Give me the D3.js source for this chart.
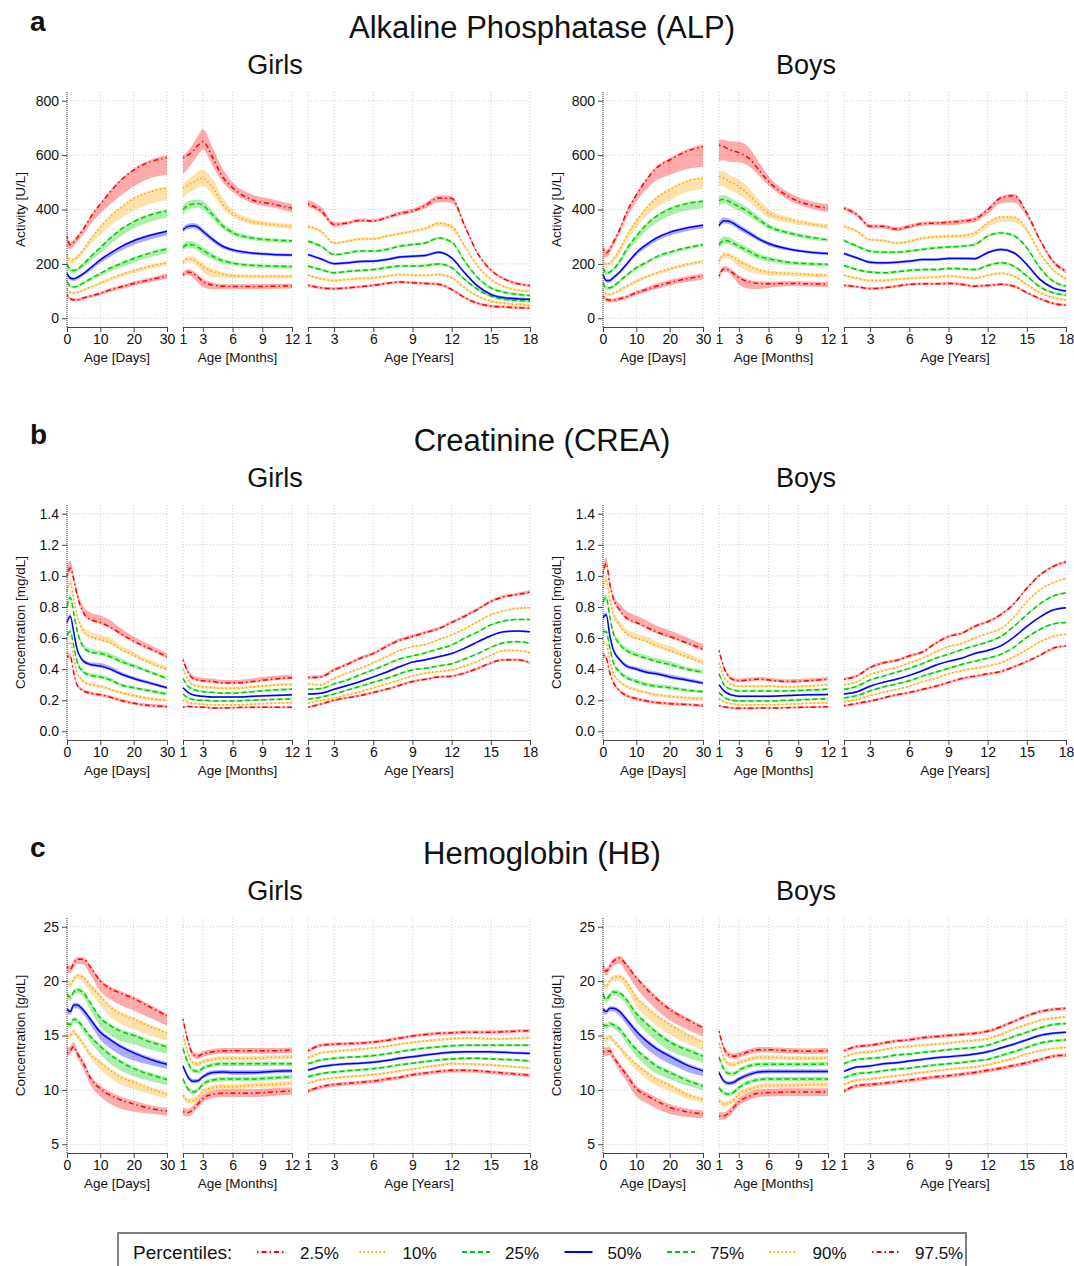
<!DOCTYPE html>
<html>
<head>
<meta charset="utf-8">
<script src="https://cdn.jsdelivr.net/npm/d3@7"></script>
<style>
  body { margin: 0; background: #fff; }
  text { font-family: "Liberation Sans", Arial, sans-serif; fill: #111; }
</style>
</head>
<body>
<script>
// percentile curves by age, 3 analytes x 2 sexes x 3 age periods

const percentiles = ["2.5%", "10%", "25%", "50%", "75%", "90%", "97.5%"];

// age grids the curves were read at
const daysX = [0, 1, 2, 3, 5, 7, 10, 13, 16, 20, 25, 30];
const monthsX = [1, 1.5, 2, 2.5, 3, 4, 5, 6, 8, 10, 12];
const yearsX = [1, 2, 3, 4, 5, 6, 7, 8, 9, 10, 11, 12, 13, 14, 15, 16, 17, 18];

const dayTicks = [0, 10, 20, 30];
const monthTicks = [1, 3, 6, 9, 12];
const yearTicks = [1, 3, 6, 9, 12, 15, 18];

const alpTicks = [0, 200, 400, 600, 800];
const creaTicks = [0, 0.2, 0.4, 0.6, 0.8, 1.0, 1.2, 1.4];
const hbTicks = [5, 10, 15, 20, 25];

// ---------- ALP girls ----------
const alpGirlsDays = [
  [85, 72, 68, 68, 75, 82, 92, 105, 115, 128, 142, 155],
  [110, 95, 92, 95, 105, 115, 130, 145, 160, 175, 192, 205],
  [135, 118, 115, 118, 130, 145, 165, 185, 200, 220, 240, 255],
  [165, 148, 145, 150, 165, 185, 215, 240, 262, 285, 305, 320],
  [200, 180, 175, 180, 200, 225, 260, 295, 325, 355, 380, 395],
  [235, 215, 215, 225, 255, 290, 335, 375, 405, 440, 465, 480],
  [300, 270, 280, 295, 330, 370, 420, 465, 505, 545, 575, 590]
];
const alpGirlsDaysLo = [
  [8, 6, 6, 6, 6, 6, 6, 7, 8, 8, 9, 10],
  [8, 6, 6, 6, 6, 6, 7, 8, 9, 10, 10, 10],
  [10, 6, 6, 6, 6, 8, 10, 12, 14, 15, 16, 16],
  [12, 8, 8, 8, 8, 10, 12, 14, 15, 15, 15, 15],
  [15, 10, 10, 10, 12, 15, 20, 22, 25, 25, 25, 25],
  [20, 12, 12, 12, 15, 20, 28, 35, 40, 45, 45, 45],
  [40, 15, 15, 15, 20, 25, 35, 45, 55, 60, 60, 62]
];
const alpGirlsDaysHi = [
  [8, 5, 5, 5, 5, 5, 5, 6, 6, 7, 8, 10],
  [6, 4, 4, 4, 4, 4, 4, 4, 4, 4, 5, 5],
  [8, 4, 4, 4, 4, 4, 4, 4, 5, 5, 6, 6],
  [10, 4, 4, 4, 4, 4, 4, 4, 4, 5, 5, 5],
  [12, 5, 5, 5, 5, 5, 5, 5, 5, 5, 5, 5],
  [15, 5, 5, 5, 5, 5, 5, 5, 5, 5, 5, 5],
  [15, 10, 8, 8, 6, 6, 6, 6, 6, 6, 8, 10]
];
const alpGirlsMonths = [
  [160, 170, 165, 152, 135, 122, 118, 117, 117, 118, 120],
  [205, 218, 215, 205, 190, 172, 162, 157, 155, 155, 155],
  [260, 272, 270, 262, 250, 228, 212, 203, 195, 192, 190],
  [325, 338, 340, 335, 320, 290, 265, 252, 240, 235, 233],
  [400, 415, 420, 422, 415, 380, 340, 315, 295, 288, 285],
  [478, 490, 500, 510, 515, 480, 420, 385, 355, 345, 338],
  [590, 600, 615, 635, 650, 590, 520, 480, 435, 420, 405]
];
const alpGirlsMonthsLo = [
  [10, 10, 15, 20, 20, 15, 10, 10, 10, 10, 10],
  [10, 10, 12, 15, 20, 20, 12, 10, 8, 8, 8],
  [12, 12, 12, 15, 15, 12, 10, 8, 8, 8, 8],
  [10, 10, 10, 10, 10, 10, 8, 8, 6, 6, 6],
  [20, 15, 15, 15, 15, 15, 12, 10, 8, 8, 8],
  [35, 30, 30, 30, 30, 25, 15, 12, 10, 10, 10],
  [60, 50, 40, 35, 30, 30, 20, 15, 12, 12, 15]
];
const alpGirlsMonthsHi = [
  [10, 10, 10, 10, 10, 10, 8, 8, 8, 8, 8],
  [8, 10, 12, 12, 12, 10, 8, 6, 5, 5, 5],
  [12, 12, 12, 12, 12, 10, 8, 6, 5, 5, 5],
  [10, 10, 10, 10, 10, 8, 6, 5, 5, 5, 5],
  [15, 15, 15, 15, 15, 15, 12, 10, 8, 6, 5],
  [15, 20, 25, 30, 30, 30, 25, 15, 10, 8, 8],
  [10, 15, 25, 35, 45, 35, 30, 20, 20, 18, 15]
];
const alpGirlsYears = [
  [121, 112, 109, 112, 116, 121, 128, 133, 131, 128, 125, 106, 76, 55, 45, 42, 39, 38],
  [158, 145, 139, 143, 147, 149, 155, 161, 159, 158, 161, 149, 112, 82, 63, 55, 51, 49],
  [192, 179, 167, 172, 176, 179, 186, 192, 192, 194, 200, 186, 143, 106, 82, 70, 66, 63],
  [234, 218, 201, 204, 209, 210, 216, 225, 228, 231, 243, 222, 167, 118, 88, 76, 72, 70],
  [283, 265, 234, 240, 247, 247, 253, 265, 271, 277, 295, 280, 210, 149, 112, 96, 88, 84],
  [338, 320, 277, 283, 292, 292, 302, 311, 320, 332, 350, 338, 265, 192, 143, 116, 104, 99],
  [420, 395, 345, 350, 360, 358, 370, 385, 395, 415, 442, 440, 340, 238, 178, 145, 128, 120]
];
const alpGirlsYearsLo = [5, 5, 5, 5, 5,
  [8, 6, 5, 5, 5, 5, 5, 6, 6, 8, 12, 12, 6, 4, 4, 4, 4, 4],
  [10, 10, 8, 6, 6, 6, 6, 8, 8, 10, 15, 15, 8, 5, 5, 5, 5, 5]];
const alpGirlsYearsHi = [5, 5, 5, 5, 5, 5,
  [15, 15, 8, 6, 8, 6, 6, 8, 8, 10, 10, 10, 8, 5, 5, 5, 5, 5]];

// ---------- ALP boys ----------
const alpBoysDays = [
  [82, 70, 67, 67, 72, 79, 94, 106, 118, 131, 145, 155],
  [106, 90, 88, 92, 104, 118, 137, 153, 167, 182, 198, 210],
  [131, 112, 112, 118, 137, 158, 186, 206, 226, 243, 259, 271],
  [161, 139, 139, 149, 170, 198, 241, 271, 295, 316, 332, 342],
  [186, 167, 170, 179, 210, 253, 302, 344, 375, 402, 421, 430],
  [216, 198, 204, 216, 253, 302, 357, 405, 442, 473, 503, 515],
  [253, 240, 253, 277, 326, 387, 454, 509, 552, 582, 613, 631]
];
const alpBoysDaysLo = [
  [10, 8, 8, 8, 8, 8, 8, 8, 10, 10, 12, 12],
  [10, 8, 8, 8, 8, 8, 8, 8, 8, 8, 8, 8],
  [10, 8, 8, 8, 8, 8, 8, 8, 8, 8, 8, 8],
  [12, 8, 8, 8, 8, 8, 10, 12, 12, 12, 12, 12],
  [15, 10, 10, 10, 12, 15, 20, 22, 25, 25, 25, 25],
  [20, 12, 12, 12, 15, 20, 25, 30, 35, 40, 40, 40],
  [30, 15, 15, 15, 15, 20, 25, 35, 45, 55, 65, 75]
];
const alpBoysDaysHi = [
  [10, 6, 6, 6, 6, 6, 6, 8, 10, 10, 10, 10],
  [6, 4, 4, 4, 4, 4, 4, 4, 4, 4, 4, 4],
  [6, 4, 4, 4, 4, 4, 4, 4, 4, 4, 4, 4],
  [8, 5, 5, 5, 5, 5, 5, 5, 5, 5, 5, 5],
  [10, 5, 5, 5, 5, 5, 5, 5, 5, 5, 5, 5],
  [12, 5, 5, 5, 5, 5, 5, 5, 5, 5, 5, 5],
  [20, 12, 10, 8, 6, 6, 6, 6, 6, 6, 8, 10]
];
const alpBoysMonths = [
  [155, 182, 177, 163, 149, 134, 128, 127, 128, 127, 125],
  [210, 234, 231, 222, 210, 192, 177, 170, 165, 161, 159],
  [271, 286, 283, 275, 265, 247, 228, 219, 206, 201, 198],
  [341, 359, 357, 348, 336, 314, 292, 275, 255, 244, 238],
  [433, 438, 430, 420, 411, 390, 363, 338, 314, 299, 289],
  [521, 515, 503, 495, 485, 454, 418, 387, 363, 348, 338],
  [637, 631, 621, 615, 609, 589, 546, 503, 448, 418, 405]
];
const alpBoysMonthsLo = [
  [12, 10, 10, 15, 25, 25, 20, 15, 10, 10, 10],
  [15, 12, 12, 15, 20, 20, 15, 12, 10, 8, 8],
  [15, 12, 12, 12, 12, 12, 12, 10, 8, 8, 8],
  [10, 10, 10, 10, 10, 10, 8, 8, 6, 6, 6],
  [20, 15, 15, 15, 15, 15, 12, 10, 8, 8, 8],
  [35, 30, 30, 30, 30, 25, 20, 15, 12, 10, 10],
  [60, 50, 45, 40, 35, 30, 20, 15, 12, 12, 15]
];
const alpBoysMonthsHi = [
  [12, 10, 10, 10, 10, 8, 8, 8, 8, 8, 8],
  [10, 10, 10, 10, 10, 8, 8, 6, 6, 5, 5],
  [15, 15, 15, 15, 12, 12, 10, 8, 6, 5, 5],
  [15, 12, 10, 10, 10, 10, 8, 6, 5, 5, 5],
  [15, 15, 15, 15, 15, 15, 12, 10, 8, 6, 5],
  [20, 25, 25, 25, 25, 25, 20, 15, 10, 8, 8],
  [20, 25, 30, 35, 40, 40, 30, 20, 15, 15, 15]
];
const alpBoysYears = [
  [121, 116, 109, 112, 118, 125, 127, 127, 128, 125, 118, 121, 125, 118, 94, 72, 55, 48],
  [158, 147, 139, 139, 143, 147, 149, 151, 155, 151, 148, 158, 165, 155, 124, 94, 76, 67],
  [194, 179, 170, 167, 171, 176, 179, 179, 183, 182, 179, 194, 204, 192, 155, 116, 94, 85],
  [238, 222, 206, 204, 206, 210, 216, 216, 220, 220, 219, 241, 253, 241, 198, 143, 112, 100],
  [286, 265, 247, 243, 243, 247, 253, 259, 262, 265, 271, 302, 314, 304, 259, 186, 137, 118],
  [338, 320, 289, 286, 277, 283, 295, 299, 302, 304, 314, 350, 372, 372, 326, 240, 179, 145],
  [405, 381, 338, 338, 328, 338, 348, 350, 353, 357, 365, 399, 442, 451, 387, 289, 210, 173]
];
const alpBoysYearsLo = [5, 5, 5, 5, 5,
  [6, 6, 6, 6, 6, 6, 6, 6, 8, 10, 12, 15, 18, 18, 10, 5, 5, 5],
  [8, 8, 8, 8, 8, 8, 8, 8, 10, 10, 12, 15, 20, 25, 15, 8, 8, 8]];
const alpBoysYearsHi = [5, 5, 5, 5, 5, 5, 7];

// ---------- CREA girls ----------
const creaGirlsDays = [
  [0.48, 0.48, 0.38, 0.30, 0.26, 0.245, 0.235, 0.22, 0.20, 0.18, 0.165, 0.16],
  [0.56, 0.57, 0.48, 0.38, 0.32, 0.30, 0.29, 0.27, 0.25, 0.23, 0.21, 0.20],
  [0.62, 0.64, 0.55, 0.45, 0.38, 0.36, 0.35, 0.33, 0.30, 0.28, 0.26, 0.24],
  [0.70, 0.74, 0.64, 0.53, 0.45, 0.43, 0.42, 0.40, 0.37, 0.34, 0.31, 0.28],
  [0.80, 0.86, 0.76, 0.65, 0.54, 0.51, 0.50, 0.48, 0.45, 0.42, 0.38, 0.34],
  [0.90, 0.95, 0.85, 0.75, 0.64, 0.61, 0.59, 0.57, 0.53, 0.49, 0.44, 0.40],
  [1.00, 1.05, 0.98, 0.88, 0.76, 0.72, 0.70, 0.67, 0.63, 0.58, 0.53, 0.48]
];
const creaGirlsDaysLo = [0.01, 0.01, 0.01, 0.01, 0.01, 0.01,
  [0.05, 0.02, 0.015, 0.015, 0.01, 0.01, 0.01, 0.01, 0.01, 0.01, 0.01, 0.01]];
const creaGirlsDaysHi = [
  [0.03, 0.02, 0.01, 0.01, 0.01, 0.01, 0.01, 0.01, 0.01, 0.01, 0.01, 0.01],
  0.01,
  [0.02, 0.015, 0.015, 0.015, 0.015, 0.015, 0.015, 0.015, 0.01, 0.01, 0.01, 0.01],
  [0.02, 0.015, 0.015, 0.015, 0.015, 0.015, 0.02, 0.02, 0.015, 0.012, 0.01, 0.01],
  [0.03, 0.02, 0.02, 0.02, 0.02, 0.02, 0.02, 0.02, 0.02, 0.015, 0.01, 0.01],
  [0.04, 0.03, 0.02, 0.02, 0.03, 0.03, 0.03, 0.03, 0.025, 0.02, 0.02, 0.015],
  [0.06, 0.05, 0.03, 0.03, 0.04, 0.045, 0.045, 0.045, 0.035, 0.03, 0.025, 0.02]
];
const creaGirlsMonths = [
  [0.155, 0.16, 0.158, 0.155, 0.155, 0.15, 0.15, 0.152, 0.155, 0.155, 0.155],
  [0.20, 0.185, 0.18, 0.177, 0.175, 0.17, 0.17, 0.17, 0.175, 0.18, 0.185],
  [0.24, 0.215, 0.205, 0.20, 0.20, 0.195, 0.195, 0.195, 0.20, 0.205, 0.21],
  [0.28, 0.25, 0.235, 0.228, 0.225, 0.22, 0.22, 0.22, 0.225, 0.23, 0.235],
  [0.34, 0.29, 0.27, 0.26, 0.255, 0.25, 0.245, 0.245, 0.255, 0.265, 0.27],
  [0.40, 0.33, 0.30, 0.29, 0.285, 0.28, 0.275, 0.275, 0.285, 0.295, 0.30],
  [0.46, 0.38, 0.34, 0.33, 0.325, 0.32, 0.31, 0.31, 0.32, 0.335, 0.345]
];
const creaGirlsMonthsLo = [0.006, 0.006, 0.006, 0.006, 0.006, 0.006, 0.008];
const creaGirlsMonthsHi = [0.006, 0.006, 0.006, 0.006, 0.008, 0.012, 0.02];
const creaGirlsYears = [
  [0.155, 0.175, 0.20, 0.215, 0.23, 0.25, 0.27, 0.295, 0.32, 0.335, 0.35, 0.355, 0.375, 0.405, 0.44, 0.46, 0.46, 0.44],
  [0.18, 0.198, 0.213, 0.235, 0.255, 0.28, 0.305, 0.33, 0.355, 0.375, 0.385, 0.395, 0.42, 0.45, 0.49, 0.52, 0.52, 0.505],
  [0.207, 0.22, 0.24, 0.265, 0.29, 0.315, 0.34, 0.37, 0.395, 0.405, 0.42, 0.435, 0.465, 0.50, 0.54, 0.57, 0.577, 0.566],
  [0.24, 0.245, 0.27, 0.295, 0.32, 0.35, 0.38, 0.415, 0.445, 0.46, 0.48, 0.50, 0.535, 0.575, 0.615, 0.64, 0.645, 0.64],
  [0.27, 0.275, 0.305, 0.33, 0.365, 0.395, 0.43, 0.465, 0.485, 0.505, 0.53, 0.555, 0.60, 0.64, 0.685, 0.71, 0.72, 0.72],
  [0.305, 0.30, 0.34, 0.375, 0.405, 0.44, 0.48, 0.52, 0.545, 0.56, 0.59, 0.62, 0.66, 0.705, 0.75, 0.775, 0.79, 0.795],
  [0.346, 0.35, 0.395, 0.43, 0.47, 0.50, 0.545, 0.585, 0.61, 0.635, 0.66, 0.70, 0.74, 0.785, 0.835, 0.865, 0.88, 0.895]
];
const creaGirlsYearsLo = [0.008, 0.006, 0.006, 0.006, 0.006, 0.006, 0.008];
const creaGirlsYearsHi = [0.008, 0.006, 0.006, 0.006, 0.006, 0.006, 0.012];

// ---------- CREA boys ----------
const creaBoysDays = [
  [0.49, 0.47, 0.38, 0.32, 0.26, 0.23, 0.21, 0.195, 0.185, 0.178, 0.172, 0.165],
  [0.57, 0.56, 0.46, 0.38, 0.32, 0.29, 0.265, 0.25, 0.235, 0.225, 0.215, 0.21],
  [0.64, 0.64, 0.54, 0.45, 0.38, 0.345, 0.32, 0.30, 0.29, 0.28, 0.265, 0.255],
  [0.73, 0.75, 0.62, 0.53, 0.46, 0.42, 0.40, 0.38, 0.37, 0.35, 0.33, 0.31],
  [0.83, 0.86, 0.74, 0.64, 0.56, 0.52, 0.49, 0.47, 0.45, 0.43, 0.40, 0.38],
  [0.92, 0.97, 0.85, 0.76, 0.68, 0.63, 0.60, 0.58, 0.55, 0.52, 0.48, 0.44],
  [1.02, 1.08, 0.95, 0.86, 0.78, 0.73, 0.70, 0.67, 0.64, 0.61, 0.57, 0.53]
];
const creaBoysDaysLo = [0.01, 0.01, 0.01, 0.01, 0.01, 0.01,
  [0.04, 0.02, 0.015, 0.01, 0.01, 0.01, 0.01, 0.01, 0.01, 0.01, 0.01, 0.015]];
const creaBoysDaysHi = [
  [0.02, 0.015, 0.01, 0.01, 0.01, 0.01, 0.01, 0.01, 0.01, 0.01, 0.01, 0.01],
  0.01,
  [0.02, 0.015, 0.015, 0.015, 0.015, 0.015, 0.015, 0.015, 0.015, 0.015, 0.01, 0.01],
  [0.02, 0.015, 0.015, 0.015, 0.015, 0.015, 0.015, 0.015, 0.015, 0.015, 0.015, 0.01],
  [0.03, 0.02, 0.02, 0.02, 0.02, 0.02, 0.02, 0.02, 0.02, 0.02, 0.015, 0.015],
  [0.04, 0.03, 0.02, 0.02, 0.03, 0.03, 0.03, 0.03, 0.03, 0.03, 0.025, 0.02],
  [0.05, 0.04, 0.03, 0.03, 0.04, 0.045, 0.045, 0.045, 0.04, 0.04, 0.035, 0.03]
];
const creaBoysMonths = [
  [0.165, 0.158, 0.153, 0.15, 0.148, 0.148, 0.15, 0.15, 0.152, 0.155, 0.158],
  [0.21, 0.19, 0.18, 0.175, 0.17, 0.17, 0.17, 0.17, 0.175, 0.18, 0.185],
  [0.25, 0.22, 0.205, 0.198, 0.195, 0.195, 0.195, 0.195, 0.20, 0.205, 0.21],
  [0.30, 0.26, 0.24, 0.23, 0.225, 0.225, 0.225, 0.225, 0.23, 0.235, 0.237],
  [0.37, 0.30, 0.275, 0.265, 0.26, 0.26, 0.26, 0.26, 0.26, 0.265, 0.27],
  [0.44, 0.35, 0.31, 0.295, 0.29, 0.29, 0.29, 0.29, 0.285, 0.29, 0.30],
  [0.52, 0.41, 0.35, 0.33, 0.325, 0.33, 0.335, 0.33, 0.32, 0.325, 0.335]
];
const creaBoysMonthsLo = [0.006, 0.006, 0.006, 0.006, 0.006, 0.006, 0.008];
const creaBoysMonthsHi = [0.006, 0.006, 0.006, 0.006, 0.008, 0.01, 0.015];
const creaBoysYears = [
  [0.165, 0.18, 0.195, 0.215, 0.235, 0.25, 0.27, 0.29, 0.315, 0.34, 0.355, 0.37, 0.385, 0.415, 0.45, 0.49, 0.535, 0.55],
  [0.19, 0.205, 0.23, 0.25, 0.27, 0.29, 0.32, 0.34, 0.37, 0.39, 0.405, 0.42, 0.44, 0.48, 0.525, 0.575, 0.61, 0.625],
  [0.215, 0.23, 0.26, 0.285, 0.305, 0.325, 0.355, 0.38, 0.405, 0.43, 0.45, 0.47, 0.495, 0.54, 0.605, 0.655, 0.69, 0.70],
  [0.24, 0.255, 0.29, 0.315, 0.335, 0.36, 0.39, 0.425, 0.45, 0.47, 0.50, 0.52, 0.55, 0.605, 0.675, 0.735, 0.78, 0.795],
  [0.27, 0.29, 0.33, 0.355, 0.38, 0.405, 0.435, 0.47, 0.495, 0.525, 0.55, 0.575, 0.61, 0.675, 0.75, 0.82, 0.87, 0.89],
  [0.30, 0.32, 0.365, 0.39, 0.41, 0.44, 0.47, 0.51, 0.545, 0.565, 0.60, 0.63, 0.66, 0.735, 0.835, 0.91, 0.955, 0.985],
  [0.335, 0.357, 0.41, 0.44, 0.455, 0.485, 0.51, 0.565, 0.61, 0.63, 0.675, 0.705, 0.75, 0.82, 0.92, 1.005, 1.06, 1.09]
];
const creaBoysYearsLo = [0.01, 0.006, 0.006, 0.006, 0.006, 0.006, 0.008];
const creaBoysYearsHi = [0.006, 0.006, 0.006, 0.006, 0.006, 0.006, 0.01];

// ---------- HB girls ----------
const hbGirlsDays = [
  [13.4, 13.6, 14.0, 13.4, 12.4, 11.1, 10.1, 9.5, 9.1, 8.7, 8.3, 8.05],
  [14.9, 15.0, 15.4, 15.0, 14.2, 13.3, 12.5, 11.8, 11.2, 10.7, 10.1, 9.6],
  [16.1, 16.0, 16.5, 16.4, 15.7, 14.9, 14.0, 13.2, 12.6, 11.95, 11.4, 10.95],
  [17.4, 17.2, 17.8, 17.8, 17.3, 16.5, 15.3, 14.6, 14.0, 13.4, 12.8, 12.35],
  [18.8, 18.5, 19.0, 19.2, 18.9, 18.0, 16.6, 15.9, 15.4, 15.0, 14.4, 13.95],
  [20.0, 19.7, 20.2, 20.5, 20.3, 19.6, 18.6, 17.6, 17.0, 16.5, 15.8, 15.2],
  [21.3, 21.1, 21.6, 22.0, 22.0, 21.3, 20.0, 19.3, 18.9, 18.4, 17.6, 16.8]
];
const hbGirlsDaysLo = [
  [0.3, 0.3, 0.3, 0.4, 0.5, 0.6, 0.7, 0.8, 0.8, 0.7, 0.5, 0.4],
  [0.3, 0.3, 0.3, 0.3, 0.3, 0.4, 0.6, 0.7, 0.7, 0.6, 0.5, 0.4],
  [0.3, 0.3, 0.3, 0.3, 0.4, 0.5, 0.7, 0.8, 0.8, 0.7, 0.6, 0.5],
  [0.3, 0.3, 0.3, 0.3, 0.4, 0.5, 0.7, 0.8, 0.8, 0.7, 0.5, 0.4],
  [0.4, 0.3, 0.3, 0.3, 0.4, 0.6, 0.8, 0.9, 0.9, 0.8, 0.7, 0.6],
  [0.4, 0.3, 0.3, 0.3, 0.4, 0.6, 0.8, 0.9, 0.9, 0.9, 0.8, 0.7],
  [0.5, 0.4, 0.4, 0.4, 0.5, 0.7, 0.9, 1.0, 1.1, 1.1, 1.0, 0.9]
];
const hbGirlsDaysHi = [
  [0.5, 0.4, 0.4, 0.3, 0.3, 0.3, 0.3, 0.3, 0.3, 0.3, 0.3, 0.3],
  0.2, 0.2, 0.2, 0.2, 0.2,
  [0.4, 0.3, 0.3, 0.2, 0.2, 0.2, 0.2, 0.2, 0.2, 0.2, 0.2, 0.2]
];
const hbGirlsMonths = [
  [8.0, 7.9, 8.2, 8.7, 9.2, 9.6, 9.7, 9.7, 9.7, 9.8, 9.9],
  [9.5, 9.0, 9.0, 9.3, 9.8, 10.2, 10.3, 10.3, 10.4, 10.5, 10.6],
  [11.0, 10.1, 9.8, 10.0, 10.5, 10.9, 11.0, 11.0, 11.0, 11.1, 11.2],
  [12.2, 11.2, 10.8, 10.85, 11.2, 11.6, 11.65, 11.6, 11.6, 11.7, 11.75],
  [13.8, 12.5, 11.8, 11.7, 12.0, 12.3, 12.4, 12.4, 12.4, 12.4, 12.4],
  [15.0, 13.4, 12.5, 12.4, 12.6, 12.8, 12.9, 12.9, 12.9, 13.0, 13.0],
  [16.5, 14.5, 13.3, 13.1, 13.3, 13.5, 13.6, 13.6, 13.6, 13.6, 13.65]
];
const hbGirlsMonthsLo = [0.35, 0.25, 0.2, 0.2, 0.2, 0.2, 0.25];
const hbGirlsMonthsHi = [0.35, 0.25, 0.2, 0.2, 0.2, 0.2, 0.25];
const hbGirlsYears = [
  [9.9, 10.3, 10.5, 10.6, 10.7, 10.8, 11.0, 11.15, 11.4, 11.55, 11.7, 11.8, 11.8, 11.75, 11.65, 11.55, 11.45, 11.35],
  [10.6, 10.95, 11.1, 11.2, 11.3, 11.4, 11.55, 11.75, 11.9, 12.1, 12.25, 12.4, 12.4, 12.35, 12.3, 12.2, 12.1, 12.0],
  [11.2, 11.5, 11.65, 11.75, 11.85, 11.95, 12.1, 12.3, 12.45, 12.6, 12.75, 12.85, 12.9, 12.9, 12.85, 12.8, 12.75, 12.65],
  [11.8, 12.15, 12.3, 12.4, 12.45, 12.55, 12.7, 12.9, 13.05, 13.2, 13.35, 13.45, 13.5, 13.5, 13.5, 13.45, 13.4, 13.35],
  [12.4, 12.75, 12.9, 13.0, 13.05, 13.15, 13.3, 13.5, 13.7, 13.85, 13.95, 14.05, 14.1, 14.1, 14.1, 14.1, 14.1, 14.1],
  [12.95, 13.4, 13.55, 13.65, 13.75, 13.85, 14.0, 14.2, 14.35, 14.5, 14.6, 14.7, 14.75, 14.75, 14.7, 14.7, 14.75, 14.8],
  [13.6, 14.1, 14.2, 14.25, 14.3, 14.4, 14.55, 14.75, 14.95, 15.1, 15.2, 15.25, 15.3, 15.3, 15.3, 15.35, 15.4, 15.45]
];
const hbGirlsYearsLo = [0.2, 0.12, 0.12, 0.12, 0.12, 0.12, 0.15];
const hbGirlsYearsHi = [0.15, 0.12, 0.12, 0.12, 0.12, 0.12, 0.15];

// ---------- HB boys ----------
const hbBoysDays = [
  [13.5, 13.5, 13.6, 13.1, 12.2, 11.4, 10.1, 9.5, 9.0, 8.4, 8.0, 7.8],
  [14.8, 14.7, 14.9, 14.6, 13.9, 13.2, 12.3, 11.6, 11.0, 10.4, 9.6, 9.1],
  [16.0, 15.9, 16.1, 16.0, 15.6, 14.8, 13.7, 12.9, 12.2, 11.6, 10.9, 10.35],
  [17.4, 17.2, 17.5, 17.5, 17.2, 16.5, 15.4, 14.5, 13.8, 13.1, 12.3, 11.75],
  [18.8, 18.3, 18.7, 19.0, 18.9, 18.3, 17.0, 16.1, 15.3, 14.4, 13.7, 13.1],
  [20.0, 19.5, 20.0, 20.3, 20.4, 19.9, 18.5, 17.6, 16.8, 16.0, 15.1, 14.35],
  [21.4, 20.9, 21.3, 21.8, 22.1, 21.5, 20.3, 19.3, 18.4, 17.4, 16.5, 15.7]
];
const hbBoysDaysLo = [
  [0.4, 0.4, 0.4, 0.4, 0.5, 0.6, 0.7, 0.7, 0.7, 0.6, 0.5, 0.4],
  [0.3, 0.3, 0.3, 0.3, 0.3, 0.4, 0.5, 0.6, 0.6, 0.5, 0.4, 0.3],
  [0.3, 0.3, 0.3, 0.3, 0.4, 0.5, 0.6, 0.7, 0.7, 0.6, 0.5, 0.4],
  [0.3, 0.3, 0.3, 0.3, 0.4, 0.5, 0.6, 0.7, 0.7, 0.7, 0.6, 0.5],
  [0.3, 0.3, 0.3, 0.3, 0.4, 0.5, 0.7, 0.8, 0.8, 0.8, 0.7, 0.6],
  [0.4, 0.3, 0.3, 0.3, 0.4, 0.6, 0.8, 0.9, 0.9, 0.9, 0.8, 0.7],
  [0.5, 0.4, 0.4, 0.4, 0.5, 0.7, 0.9, 1.0, 1.0, 1.0, 0.9, 0.8]
];
const hbBoysDaysHi = [
  [0.5, 0.4, 0.4, 0.3, 0.3, 0.3, 0.3, 0.3, 0.3, 0.3, 0.3, 0.3],
  0.2, 0.2, 0.2, 0.2, 0.2,
  [0.4, 0.3, 0.3, 0.2, 0.2, 0.2, 0.2, 0.2, 0.2, 0.2, 0.2, 0.2]
];
const hbBoysMonths = [
  [7.6, 7.6, 7.9, 8.4, 8.9, 9.4, 9.7, 9.75, 9.8, 9.8, 9.8],
  [9.0, 8.7, 8.8, 9.1, 9.6, 10.0, 10.3, 10.4, 10.4, 10.45, 10.5],
  [10.2, 9.7, 9.6, 9.8, 10.2, 10.7, 10.95, 11.0, 11.0, 11.0, 11.0],
  [11.6, 10.8, 10.6, 10.7, 11.0, 11.4, 11.65, 11.7, 11.7, 11.7, 11.7],
  [13.0, 11.9, 11.5, 11.5, 11.8, 12.2, 12.35, 12.35, 12.35, 12.35, 12.4],
  [14.3, 12.9, 12.4, 12.35, 12.5, 12.8, 13.0, 13.0, 12.95, 12.9, 12.95],
  [15.4, 13.8, 13.2, 13.1, 13.2, 13.5, 13.7, 13.7, 13.6, 13.55, 13.6]
];
const hbBoysMonthsLo = [0.35, 0.25, 0.2, 0.2, 0.2, 0.2, 0.25];
const hbBoysMonthsHi = [0.35, 0.25, 0.2, 0.2, 0.2, 0.2, 0.25];
const hbBoysYears = [
  [9.9, 10.4, 10.5, 10.6, 10.75, 10.9, 11.05, 11.2, 11.3, 11.45, 11.6, 11.8, 12.0, 12.25, 12.5, 12.8, 13.1, 13.2],
  [10.5, 10.9, 11.0, 11.15, 11.3, 11.45, 11.6, 11.75, 11.9, 12.0, 12.1, 12.3, 12.6, 12.9, 13.3, 13.6, 13.8, 13.9],
  [11.1, 11.5, 11.6, 11.75, 11.9, 12.0, 12.15, 12.3, 12.4, 12.5, 12.65, 12.8, 13.15, 13.5, 13.9, 14.3, 14.5, 14.6],
  [11.7, 12.1, 12.2, 12.4, 12.5, 12.65, 12.8, 12.95, 13.05, 13.15, 13.3, 13.5, 13.85, 14.2, 14.6, 15.0, 15.2, 15.3],
  [12.4, 12.8, 12.9, 13.0, 13.2, 13.3, 13.45, 13.55, 13.7, 13.8, 13.9, 14.1, 14.5, 14.9, 15.3, 15.7, 16.0, 16.1],
  [13.0, 13.4, 13.5, 13.7, 13.9, 14.0, 14.1, 14.2, 14.3, 14.45, 14.55, 14.7, 15.1, 15.6, 16.0, 16.4, 16.6, 16.7],
  [13.6, 14.0, 14.1, 14.3, 14.5, 14.6, 14.8, 14.9, 15.0, 15.1, 15.2, 15.4, 15.8, 16.3, 16.8, 17.2, 17.4, 17.5]
];
const hbBoysYearsLo = [0.2, 0.12, 0.12, 0.12, 0.12, 0.12, 0.15];
const hbBoysYearsHi = [0.15, 0.12, 0.12, 0.12, 0.12, 0.12, 0.15];

// ---------- styles ----------
const pctColor = ["#ff0000", "#ffa500", "#00cd00", "#0000ff", "#00cd00", "#ffa500", "#ff0000"];
const pctDash = ["1.5,3,5,3", "1.5,2.5", "5,3", null, "5,3", "1.5,2.5", "1.5,3,5,3"];

const rows = [
  {
    letter: "a", title: "Alkaline Phosphatase (ALP)", ylab: "Activity [U/L]",
    domain: [-32, 832], ticks: alpTicks, fmt: d3.format("d"),
    Girls: { Days: [alpGirlsDays, alpGirlsDaysLo, alpGirlsDaysHi], Months: [alpGirlsMonths, alpGirlsMonthsLo, alpGirlsMonthsHi], Years: [alpGirlsYears, alpGirlsYearsLo, alpGirlsYearsHi] },
    Boys: { Days: [alpBoysDays, alpBoysDaysLo, alpBoysDaysHi], Months: [alpBoysMonths, alpBoysMonthsLo, alpBoysMonthsHi], Years: [alpBoysYears, alpBoysYearsLo, alpBoysYearsHi] }
  },
  {
    letter: "b", title: "Creatinine (CREA)", ylab: "Concentration [mg/dL]",
    domain: [-0.056, 1.456], ticks: creaTicks, fmt: d3.format(".1f"),
    Girls: { Days: [creaGirlsDays, creaGirlsDaysLo, creaGirlsDaysHi], Months: [creaGirlsMonths, creaGirlsMonthsLo, creaGirlsMonthsHi], Years: [creaGirlsYears, creaGirlsYearsLo, creaGirlsYearsHi] },
    Boys: { Days: [creaBoysDays, creaBoysDaysLo, creaBoysDaysHi], Months: [creaBoysMonths, creaBoysMonthsLo, creaBoysMonthsHi], Years: [creaBoysYears, creaBoysYearsLo, creaBoysYearsHi] }
  },
  {
    letter: "c", title: "Hemoglobin (HB)", ylab: "Concentration [g/dL]",
    domain: [4.2, 25.8], ticks: hbTicks, fmt: d3.format("d"),
    Girls: { Days: [hbGirlsDays, hbGirlsDaysLo, hbGirlsDaysHi], Months: [hbGirlsMonths, hbGirlsMonthsLo, hbGirlsMonthsHi], Years: [hbGirlsYears, hbGirlsYearsLo, hbGirlsYearsHi] },
    Boys: { Days: [hbBoysDays, hbBoysDaysLo, hbBoysDaysHi], Months: [hbBoysMonths, hbBoysMonthsLo, hbBoysMonthsHi], Years: [hbBoysYears, hbBoysYearsLo, hbBoysYearsHi] }
  }
];

const periods = [
  { key: "Days", grid: daysX, ticks: dayTicks, domain: [0, 30], range: [67, 167] },
  { key: "Months", grid: monthsX, ticks: monthTicks, domain: [1, 12], range: [183, 292] },
  { key: "Years", grid: yearsX, ticks: yearTicks, domain: [1, 18], range: [308, 530] }
];
const sexes = [
  { name: "Girls", dx: 0, titleX: 275, ylabX: 20 },
  { name: "Boys", dx: 536, titleX: 806, ylabX: 556 }
];

const off = (b, i, j) => (Array.isArray(b[i]) ? b[i][j] : b[i]);

const svg = d3.select("body").append("svg")
  .attr("width", 1074)
  .attr("height", 1266);
svg.append("rect").attr("width", 1074).attr("height", 1266).attr("fill", "#fff");

const rowTop0 = 92, rowStep = 413, plotH = 235;

rows.forEach((row, r) => {
  const top = rowTop0 + r * rowStep;
  const bottom = top + plotH;

  svg.append("text")
    .attr("x", 30).attr("y", top - 61)
    .attr("font-size", 28).attr("font-weight", "bold")
    .text(row.letter);
  svg.append("text")
    .attr("x", 542).attr("y", top - 54)
    .attr("text-anchor", "middle").attr("font-size", 31)
    .text(row.title);

  const y = d3.scaleLinear().domain(row.domain).range([bottom, top]);

  sexes.forEach(sex => {
    svg.append("text")
      .attr("x", sex.titleX).attr("y", top - 18)
      .attr("text-anchor", "middle").attr("font-size", 27)
      .text(sex.name);

    svg.append("text")
      .attr("transform", `translate(${sex.ylabX},${(top + bottom) / 2}) rotate(-90)`)
      .attr("text-anchor", "middle").attr("dominant-baseline", "central")
      .attr("font-size", 13.5)
      .text(row.ylab);

    periods.forEach((p, k) => {
      const x = d3.scaleLinear().domain(p.domain).range(p.range.map(v => v + sex.dx));
      const [x0, x1] = x.range();
      const g = svg.append("g");

      // grid
      g.selectAll(".hgrid").data(row.ticks).join("line")
        .attr("x1", x0).attr("x2", x1)
        .attr("y1", d => y(d)).attr("y2", d => y(d))
        .attr("stroke", "#cfcfcf").attr("stroke-dasharray", "1,2");
      g.selectAll(".vgrid").data(p.ticks).join("line")
        .attr("x1", d => x(d)).attr("x2", d => x(d))
        .attr("y1", top).attr("y2", bottom)
        .attr("stroke", "#cfcfcf").attr("stroke-dasharray", "1,2");

      const [vals, lo, hi] = row[sex.name][p.key];
      const series = vals.map((s, i) => p.grid.map((gx, j) => ({
        x: gx, v: s[j], lo: s[j] - off(lo, i, j), hi: s[j] + off(hi, i, j)
      })));

      const area = d3.area()
        .x(d => x(d.x)).y0(d => y(d.lo)).y1(d => y(d.hi))
        .curve(d3.curveMonotoneX);
      const line = d3.line()
        .x(d => x(d.x)).y(d => y(d.v))
        .curve(d3.curveMonotoneX);

      g.selectAll(".band").data(series).join("path")
        .attr("d", area)
        .attr("fill", (d, i) => pctColor[i])
        .attr("fill-opacity", 0.33)
        .attr("stroke", "none");

      g.selectAll(".pline").data(series).join("path")
        .attr("d", line)
        .attr("fill", "none")
        .attr("stroke", (d, i) => pctColor[i])
        .attr("stroke-width", 1.5)
        .attr("stroke-dasharray", (d, i) => pctDash[i]);

      // x axis
      const xa = g.append("g")
        .attr("transform", `translate(0,${bottom})`)
        .call(d3.axisBottom(x).tickValues(p.ticks).tickSize(5).tickSizeOuter(0).tickPadding(2));
      xa.selectAll("path, line").attr("stroke", "#444");
      xa.selectAll("text").attr("font-size", 14).attr("fill", "#111")
        .attr("font-family", "Liberation Sans, Arial, sans-serif");

      g.append("text")
        .attr("x", (x0 + x1) / 2).attr("y", bottom + 35)
        .attr("text-anchor", "middle").attr("font-size", 13.5)
        .text(`Age [${p.key}]`);

      if (k === 0) {
        g.append("line")
          .attr("x1", x0).attr("x2", x0).attr("y1", top).attr("y2", bottom)
          .attr("stroke", "#444").attr("stroke-dasharray", "1,1");
        const ya = g.append("g")
          .attr("transform", `translate(${x0},0)`)
          .call(d3.axisLeft(y).tickValues(row.ticks).tickFormat(row.fmt).tickSize(5).tickSizeOuter(0));
        ya.select(".domain").remove();
        ya.selectAll("line").attr("stroke", "#444");
        ya.selectAll("text").attr("font-size", 14).attr("fill", "#111")
          .attr("font-family", "Liberation Sans, Arial, sans-serif");
      }
    });
  });
});

// legend
const leg = svg.append("g");
leg.append("rect")
  .attr("x", 118).attr("y", 1233).attr("width", 848).attr("height", 60)
  .attr("fill", "#fff").attr("stroke", "#808080").attr("stroke-width", 2);
leg.append("text")
  .attr("x", 133).attr("y", 1259).attr("font-size", 19)
  .text("Percentiles:");
const lx = d3.scaleLinear().domain([0, percentiles.length - 1]).range([257, 872]);
const items = leg.selectAll(".item").data(percentiles).join("g")
  .attr("transform", (d, i) => `translate(${lx(i)},1252)`);
items.append("line")
  .attr("x1", 0).attr("x2", 28)
  .attr("stroke", (d, i) => pctColor[i])
  .attr("stroke-width", 2)
  .attr("stroke-dasharray", (d, i) => pctDash[i]);
items.append("text")
  .attr("x", 43).attr("y", 7).attr("font-size", 17)
  .text(d => d);
</script>
</body>
</html>
